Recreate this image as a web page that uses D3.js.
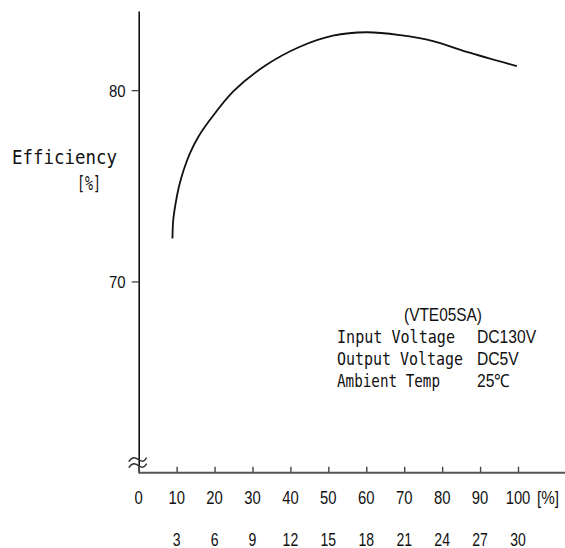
<!DOCTYPE html>
<html>
<head>
<meta charset="utf-8">
<script src="https://cdn.jsdelivr.net/npm/d3@7"></script>
<style>
  body { margin: 0; background: #fff; }
  svg { display: block; }
</style>
</head>
<body>
<div id="chart"></div>
<script>
// efficiency vs load
const loadPct    = [8.9, 9.1, 9.75, 10.6, 11.9, 13.5, 15.7, 18.8, 25, 33.5, 42.5, 51.2, 60.1, 68.9, 77.6, 86.5, 99.7]
const efficiency = [72.25, 73.2, 74.1, 74.95, 75.85, 76.7, 77.55, 78.45, 79.95, 81.3, 82.27, 82.85, 83.03, 82.88, 82.57, 82.0, 81.26]

const xTicks = [0, 10, 20, 30, 40, 50, 60, 70, 80, 90, 100]
const yTicks = [70, 80]
const currentTicks = [10, 20, 30, 40, 50, 60, 70, 80, 90, 100]
const currentLabels = ["3", "6", "9", "12", "15", "18", "21", "24", "27", "30"]

const noteTitle = "(VTE05SA)"
const noteKeys = ["Input Voltage", "Output Voltage", "Ambient Temp"]
const noteVals = ["DC130V", "DC5V", "25\u2103"]

const width = 565, height = 548
const mono = "'DejaVu Sans Mono', 'Liberation Mono', monospace"
const sans = "'Liberation Sans', Arial, sans-serif"

const x = d3.scaleLinear().domain([0, 100]).range([138.7, 518])
const y = d3.scaleLinear().domain([60, 84.14]).range([472.7, 11])

const svg = d3.select("#chart").append("svg")
    .attr("width", width)
    .attr("height", height)

// y axis
const yAxis = svg.append("g")
    .attr("transform", `translate(${x(0)},0)`)
    .call(d3.axisLeft(y).tickValues(yTicks).tickSize(7).tickSizeOuter(0).tickPadding(8))
yAxis.select(".domain").attr("stroke", "#111").attr("stroke-width", 1.6)
yAxis.selectAll(".tick line").attr("stroke", "#333").attr("stroke-width", 1.2)
yAxis.selectAll(".tick text")
    .attr("font-family", sans)
    .attr("font-size", 17)
    .attr("fill", "#111")
    .attr("transform", "scale(0.88,1)")
    .attr("dy", "0.36em")

// x axis (ticks point up into the plot)
const xAxis = svg.append("g")
    .attr("transform", `translate(0,${y(60)})`)
    .call(d3.axisBottom(x).tickValues(xTicks).tickSize(-6).tickSizeOuter(0).tickFormat(""))
xAxis.select(".domain").remove()
xAxis.selectAll(".tick line").attr("stroke", "#444").attr("stroke-width", 1.4)
xAxis.append("line")
    .attr("x1", x(0)).attr("x2", width)
    .attr("stroke", "#555").attr("stroke-width", 2)

// two rows of labels: load % and output current
svg.selectAll("text.xlab")
    .data(xTicks)
    .enter().append("text")
    .attr("class", "xlab")
    .attr("transform", d => `translate(${x(d)},504) scale(0.78,1)`)
    .attr("text-anchor", "middle")
    .attr("font-family", sans)
    .attr("font-size", 19)
    .attr("fill", "#111")
    .text(d => d)

svg.append("text")
    .attr("transform", "translate(537,504) scale(0.8,1)")
    .attr("font-family", sans)
    .attr("font-size", 19)
    .attr("fill", "#111")
    .text("[%]")

svg.selectAll("text.ilab")
    .data(currentTicks)
    .enter().append("text")
    .attr("class", "ilab")
    .attr("transform", d => `translate(${x(d)},546) scale(0.78,1)`)
    .attr("text-anchor", "middle")
    .attr("font-family", sans)
    .attr("font-size", 18)
    .attr("fill", "#111")
    .text((d, i) => currentLabels[i])

// axis break mark
const brk = svg.append("g").attr("transform", `translate(${x(0)},${y(60)})`)
;[-13, -7].forEach(function(off) {
    const p = d3.path()
    p.moveTo(-10, off + 2)
    p.bezierCurveTo(-6, off - 4, -3, off - 2, 0, off)
    p.bezierCurveTo(3, off + 2, 5, off + 3, 8, off - 2)
    brk.append("path")
        .attr("d", p.toString())
        .attr("fill", "none")
        .attr("stroke", "#333")
        .attr("stroke-width", 1.5)
})

// y label
svg.append("text")
    .attr("x", 12).attr("y", 164)
    .attr("font-family", mono).attr("font-size", 20)
    .attr("textLength", 105).attr("lengthAdjust", "spacingAndGlyphs")
    .attr("fill", "#111")
    .text("Efficiency")
svg.append("text")
    .attr("x", 77).attr("y", 190)
    .attr("font-family", mono).attr("font-size", 20)
    .attr("textLength", 24).attr("lengthAdjust", "spacingAndGlyphs")
    .attr("fill", "#111")
    .text("[%]")

// curve
const line = d3.line()
    .x((d, i) => x(loadPct[i]))
    .y(d => y(d))
    .curve(d3.curveCatmullRom.alpha(0.5))

svg.append("path")
    .datum(efficiency)
    .attr("d", line)
    .attr("fill", "none")
    .attr("stroke", "#111")
    .attr("stroke-width", 1.8)

// conditions note
svg.append("text")
    .attr("x", 404).attr("y", 321)
    .attr("font-family", sans).attr("font-size", 18)
    .attr("textLength", 78).attr("lengthAdjust", "spacingAndGlyphs")
    .attr("fill", "#111")
    .text(noteTitle)

const keyLens = [118, 126, 103]
noteKeys.forEach(function(k, i) {
    svg.append("text")
        .attr("x", 337).attr("y", 343 + i * 22)
        .attr("font-family", mono).attr("font-size", 18)
        .attr("textLength", keyLens[i]).attr("lengthAdjust", "spacingAndGlyphs")
        .attr("fill", "#111")
        .text(k)
})
noteVals.forEach(function(v, i) {
    svg.append("text")
        .attr("transform", `translate(477,${343 + i * 22}) scale(0.87,1)`)
        .attr("font-family", sans).attr("font-size", 18)
        .attr("fill", "#111")
        .text(v)
})
</script>
</body>
</html>
